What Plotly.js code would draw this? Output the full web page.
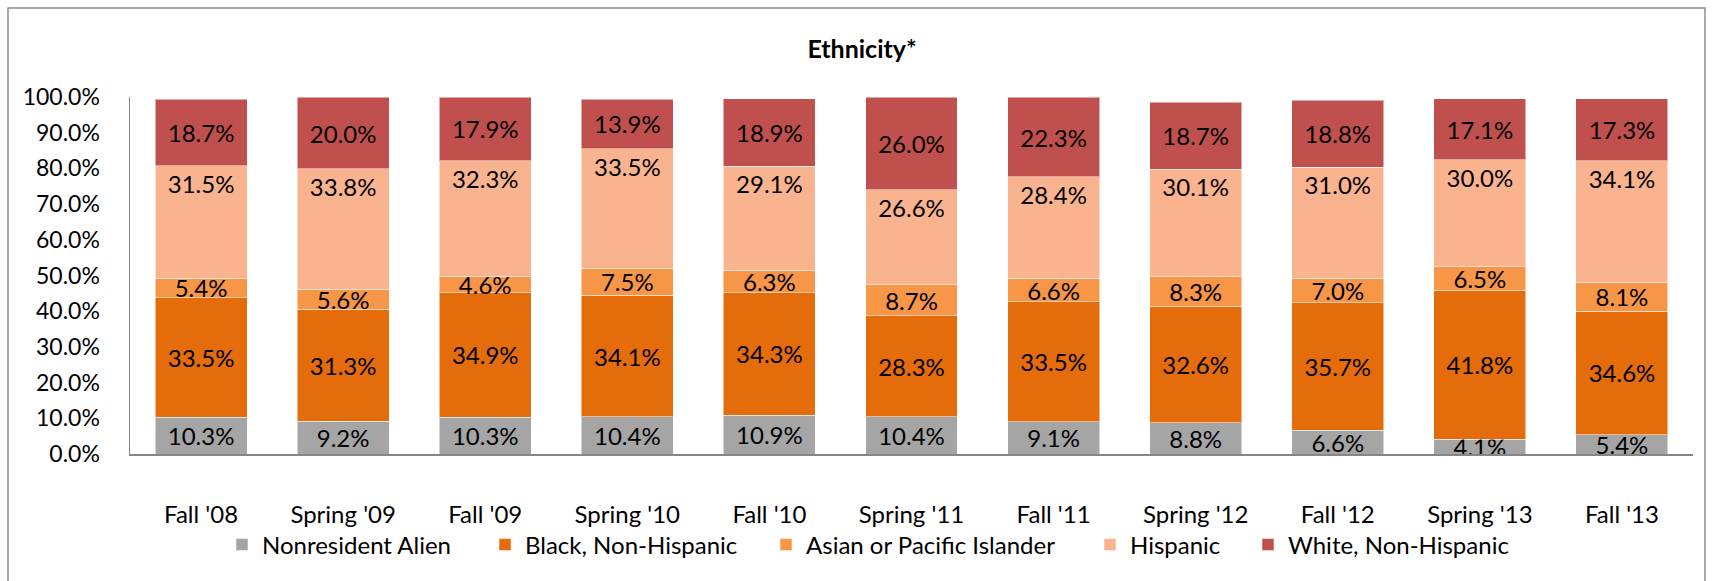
<!DOCTYPE html>
<html>
<head>
<meta charset="utf-8">
<script src="https://cdn.plot.ly/plotly-3.0.1.min.js"></script>
<style>
  html, body { margin: 0; padding: 0; background: #ffffff; }
  #chart { width: 1716px; height: 581px; }
</style>
</head>
<body>
<div id="chart"></div>
<script>
var terms = ["Fall '08", "Spring '09", "Fall '09", "Spring '10", "Fall '10", "Spring '11", "Fall '11", "Spring '12", "Fall '12", "Spring '13", "Fall '13"];
var nonresidentAlien = [10.3, 9.2, 10.3, 10.4, 10.9, 10.4, 9.1, 8.8, 6.6, 4.1, 5.4];
var blackNonHispanic = [33.5, 31.3, 34.9, 34.1, 34.3, 28.3, 33.5, 32.6, 35.7, 41.8, 34.6];
var asianPacific = [5.4, 5.6, 4.6, 7.5, 6.3, 8.7, 6.6, 8.3, 7.0, 6.5, 8.1];
var hispanic = [31.5, 33.8, 32.3, 33.5, 29.1, 26.6, 28.4, 30.1, 31.0, 30.0, 34.1];
var whiteNonHispanic = [18.7, 20.0, 17.9, 13.9, 18.9, 26.0, 22.3, 18.7, 18.8, 17.1, 17.3];
var yTicks = [0, 10, 20, 30, 40, 50, 60, 70, 80, 90, 100];

var FONT = "Lato, 'Open Sans', sans-serif";
var series = [
  {name: "Nonresident Alien", y: nonresidentAlien, color: "#A5A5A5", anchor: "middle", legend: "legend", lx: 236},
  {name: "Black, Non-Hispanic", y: blackNonHispanic, color: "#E46C0A", anchor: "middle", legend: "legend2", lx: 499},
  {name: "Asian or Pacific Islander", y: asianPacific, color: "#F79646", anchor: "middle", legend: "legend3", lx: 780},
  {name: "Hispanic", y: hispanic, color: "#F9B48F", anchor: "end", legend: "legend4", lx: 1104},
  {name: "White, Non-Hispanic", y: whiteNonHispanic, color: "#C0504D", anchor: "middle", legend: "legend5", lx: 1262}
];

var traces = series.map(function (s) {
  return {
    type: "bar",
    name: s.name,
    legend: s.legend,
    x: terms,
    y: s.y,
    marker: {color: s.color, line: {color: "rgba(255,255,255,0.5)", width: 1}},
    text: s.y.map(function (v) { return v.toFixed(1) + "%"; }),
    textposition: "inside",
    insidetextanchor: s.anchor,
    textangle: 0,
    constraintext: "none",
    textfont: {family: FONT, size: 24, color: "#000000"},
    hoverinfo: "x+y+name"
  };
});

var M = {l: 130, r: 23, t: 97, b: 127};
var W = 1716, H = 581;
var pw = W - M.l - M.r, ph = H - M.t - M.b;
function px(x) { return (x - M.l) / pw; }
function py(y) { return (H - M.b - y) / ph; }

var layout = {
  width: W,
  height: H,
  margin: M,
  paper_bgcolor: "#ffffff",
  plot_bgcolor: "#ffffff",
  barmode: "stack",
  bargap: 0.353,
  font: {family: FONT, size: 24, color: "#000000"},
  title: {
    text: "<b>Ethnicity*</b>",
    font: {family: FONT, size: 25, color: "#000000"},
    x: px(862), xref: "paper", xanchor: "center",
    y: 1 - 49 / H, yref: "container", yanchor: "middle"
  },
  xaxis: {
    type: "category",
    showgrid: false,
    zeroline: false,
    showline: true,
    linecolor: "#868686",
    linewidth: 2,
    ticks: "",
    ticklabelstandoff: 38,
    tickfont: {family: FONT, size: 24, color: "#000000"}
  },
  yaxis: {
    range: [0, 100],
    tickvals: yTicks,
    ticktext: yTicks.map(function (v) { return v.toFixed(1) + "%"; }),
    showgrid: false,
    zeroline: false,
    showline: true,
    linecolor: "#868686",
    linewidth: 1.5,
    ticks: "",
    ticklabelstandoff: 24,
    tickfont: {family: FONT, size: 23, color: "#000000"}
  },
  shapes: [{
    type: "rect", xref: "paper", yref: "paper",
    x0: px(8), x1: px(1705), y0: py(600), y1: py(8),
    line: {color: "#8C8C8C", width: 1.5},
    fillcolor: "rgba(0,0,0,0)",
    layer: "below"
  }],
  showlegend: true
};

series.forEach(function (s) {
  layout[s.legend] = {
    orientation: "h",
    x: px(s.lx - 14), xanchor: "left",
    y: py(545), yanchor: "middle",
    bgcolor: "rgba(0,0,0,0)",
    font: {family: FONT, size: 24, color: "#000000"},
    itemclick: false
  };
});

Plotly.newPlot("chart", traces, layout, {displayModeBar: false, staticPlot: true});
</script>
</body>
</html>
